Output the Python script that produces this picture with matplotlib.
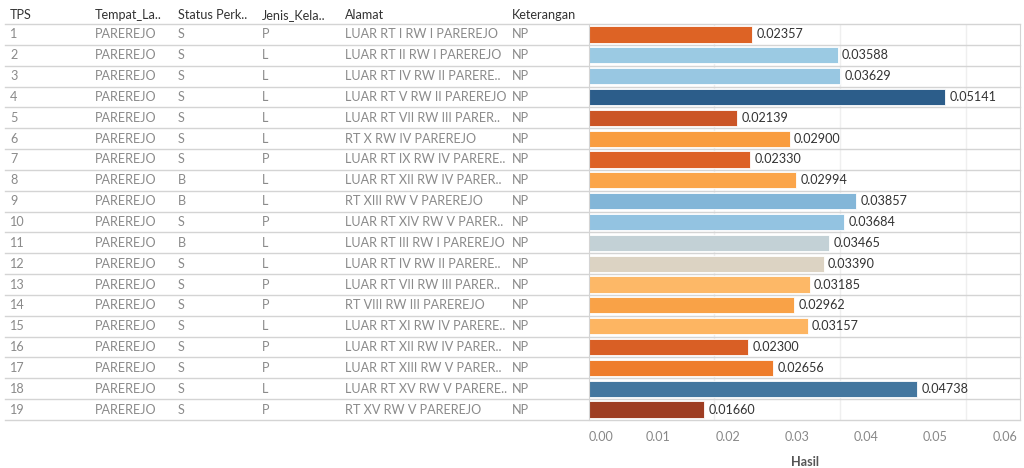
import matplotlib
matplotlib.use("Agg")
import matplotlib.pyplot as plt
from matplotlib.transforms import blended_transform_factory
from matplotlib.lines import Line2D

plt.rcParams['font.family'] = ['Lato', 'DejaVu Sans']

tps = [str(i) for i in range(1, 20)]
tempat = ["PAREREJO"] * 19
status = ["S", "S", "S", "S", "S", "S", "S", "B", "B", "S", "B", "S", "S", "S", "S", "S", "S", "S", "S"]
jenis = ["P", "L", "L", "L", "L", "L", "P", "L", "L", "P", "L", "L", "P", "P", "L", "P", "P", "L", "P"]
alamat = [
    "LUAR RT I RW I PAREREJO",
    "LUAR RT II RW I PAREREJO",
    "LUAR RT IV RW II PARERE..",
    "LUAR RT V RW II PAREREJO",
    "LUAR RT VII RW III PARER..",
    "RT X RW IV PAREREJO",
    "LUAR RT IX RW IV PARERE..",
    "LUAR RT XII RW IV PARER..",
    "RT XIII RW V PAREREJO",
    "LUAR RT XIV RW V PARER..",
    "LUAR RT III RW I PAREREJO",
    "LUAR RT IV RW II PARERE..",
    "LUAR RT VII RW III PARER..",
    "RT VIII RW III PAREREJO",
    "LUAR RT XI RW IV PARERE..",
    "LUAR RT XII RW IV PARER..",
    "LUAR RT XIII RW V PARER..",
    "LUAR RT XV RW V PARERE..",
    "RT XV RW V PAREREJO",
]
keterangan = ["NP"] * 19
hasil = [0.02357, 0.03588, 0.03629, 0.05141, 0.02139, 0.02900, 0.02330, 0.02994,
         0.03857, 0.03684, 0.03465, 0.03390, 0.03185, 0.02962, 0.03157, 0.02300,
         0.02656, 0.04738, 0.01660]
bar_colors = ["#DD6325", "#9BCAE3", "#98C7E2", "#2C5D8A", "#CB5526", "#F99D40",
              "#DD6125", "#FBA54A", "#83B6D8", "#93C3E1", "#C3D1D6", "#DCD3C3",
              "#FDB867", "#F9A247", "#FDB562", "#D95F25", "#EE7D2C", "#44779F",
              "#9E3D22"]
headers = ["TPS", "Tempat_La..", "Status Perk..", "Jenis_Kela..", "Alamat", "Keterangan"]
xticks = [0.00, 0.01, 0.02, 0.03, 0.04, 0.05, 0.06]
gridlines = [0.0181, 0.0362, 0.0544]

W, H = 1024, 468
fig = plt.figure(figsize=(W / 100, H / 100), dpi=100)
fig.patch.set_facecolor("white")

FS = 9.1
ax_l, ax_r, ax_t, ax_b = 589, 1020, 24, 420
ax = fig.add_axes([ax_l / W, 1 - ax_b / H, (ax_r - ax_l) / W, (ax_b - ax_t) / H])
n = len(hasil)
ys = list(range(n))

for g in gridlines:
    ax.axvline(g, color="#efefef", lw=1, zorder=0)

ax.barh(ys, hasil, height=0.78, color=bar_colors, edgecolor="white", linewidth=0.6, zorder=2)
for y, v in zip(ys, hasil):
    ax.annotate(f"{v:.5f}", (v, y), xytext=(3, 0), textcoords="offset points",
                va="center", ha="left", fontsize=FS, color="#333333")

ax.set_xlim(0, 0.0622)
ax.set_ylim(n - 0.5, -0.5)
ax.set_yticks([])
ax.set_xticks(xticks)
labels = [f"{t:.2f}" for t in xticks]
ax.set_xticklabels(labels, fontsize=FS, color="#888888")
ax.get_xticklabels()[0].set_ha("left")
ax.tick_params(axis="x", length=0, pad=8)
for s in ["top", "bottom"]:
    ax.spines[s].set_visible(False)
ax.spines["left"].set_color("#d4d4d4")
ax.spines["right"].set_color("#d4d4d4")
ax.set_xlabel("Hasil", fontsize=FS, color="#555555", fontweight="bold", labelpad=9)

# table
tr = blended_transform_factory(fig.transFigure, ax.transData)
col_x = [10, 95, 178, 262, 345, 512]
cols = [tps, tempat, status, jenis, alamat, keterangan]
for cx, h in zip(col_x, headers):
    ax.text(cx / W, -0.5 - 9 / 20.84, h, transform=tr, fontsize=FS, color="#333333",
            va="center", ha="left", clip_on=False)
for cx, col in zip(col_x, cols):
    for y, val in zip(ys, col):
        ax.text(cx / W, y, val, transform=tr, fontsize=FS, color="#8a8a8a",
                va="center", ha="left", clip_on=False)
for i in range(n + 1):
    yy = i - 0.5
    fig.add_artist(Line2D([5 / W, ax_r / W], [yy, yy], transform=tr, color="#d4d4d4",
                          lw=1, clip_on=False))

fig.savefig("out.png", dpi=100, facecolor="white")
